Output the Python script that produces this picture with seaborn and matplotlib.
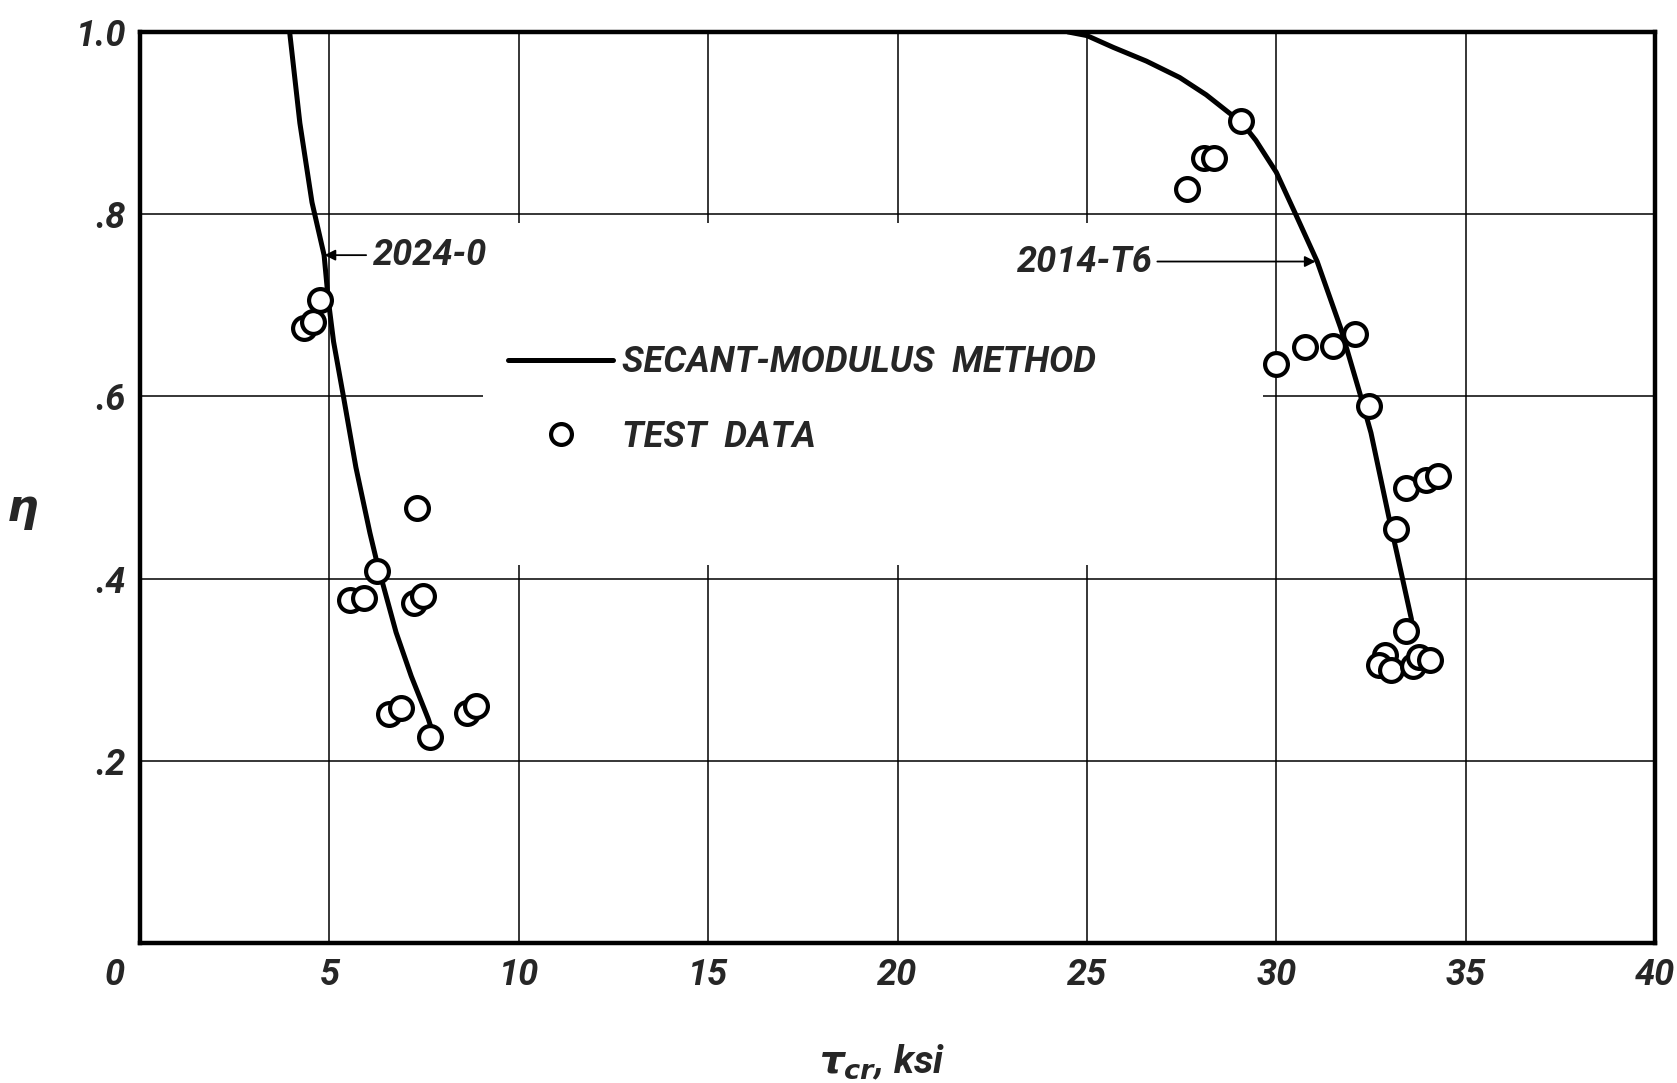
import matplotlib
matplotlib.use("Agg")
import matplotlib.pyplot as plt
from matplotlib.lines import Line2D
from matplotlib.transforms import ScaledTranslation
import pandas as pd
import seaborn as sns

# secant-modulus curves (tau_cr in ksi, eta)
curve_2024_tau = [3.95, 4.22, 4.54, 4.86, 4.97, 5.11, 5.37, 5.70, 6.07, 6.26, 6.76, 7.16, 7.61, 7.72]
curve_2024_eta = [1.00, 0.90, 0.813, 0.755, 0.706, 0.66, 0.60, 0.522, 0.45, 0.417, 0.341, 0.293, 0.246, 0.232]

curve_2014_tau = [24.5, 25.0, 25.7, 26.57, 27.45, 28.15, 28.76, 29.06, 29.46, 30.0, 30.51, 31.08,
                  31.70, 32.23, 32.5, 32.99, 33.2, 33.57]
curve_2014_eta = [1.0, 0.996, 0.983, 0.968, 0.950, 0.931, 0.911, 0.902, 0.881, 0.846, 0.80, 0.748,
                  0.675, 0.60, 0.56, 0.464, 0.425, 0.355]

# test data
test_2024_tau = [4.32, 4.56, 4.74, 7.31, 6.26, 5.55, 5.92, 7.24, 7.46, 6.58, 6.90, 7.66, 8.63, 8.88]
test_2024_eta = [0.675, 0.682, 0.706, 0.477, 0.408, 0.377, 0.379, 0.373, 0.381, 0.251, 0.258, 0.226,
                 0.252, 0.260]

test_2014_tau = [29.06, 28.10, 28.36, 27.64, 29.98, 30.76, 31.51, 32.08, 32.45, 33.43, 33.96, 34.27,
                 33.17, 33.42, 32.86, 32.70, 33.04, 33.62, 33.76, 34.07]
test_2014_eta = [0.902, 0.862, 0.862, 0.828, 0.636, 0.654, 0.655, 0.668, 0.589, 0.499, 0.508, 0.513,
                 0.454, 0.342, 0.316, 0.305, 0.300, 0.304, 0.314, 0.311]

x_ticks = [0, 5, 10, 15, 20, 25, 30, 35, 40]
x_labels = ["0", "5", "10", "15", "20", "25", "30", "35", "40"]
y_ticks = [0.2, 0.4, 0.6, 0.8, 1.0]
y_labels = [".2", ".4", ".6", ".8", "1.0"]

sns.set_style("white")
plt.rcParams["font.family"] = ["Roboto", "DejaVu Sans"]
plt.rcParams["font.weight"] = "bold"
plt.rcParams["font.style"] = "italic"
plt.rcParams["mathtext.fontset"] = "dejavusans"

fig = plt.figure(figsize=(16.77, 10.83), dpi=100)
ax = fig.add_axes([0.0835, 0.1293, 0.9034, 0.8412])

curves = pd.concat([
    pd.DataFrame({"tau": curve_2024_tau, "eta": curve_2024_eta, "alloy": "2024-0"}),
    pd.DataFrame({"tau": curve_2014_tau, "eta": curve_2014_eta, "alloy": "2014-T6"}),
])
tests = pd.concat([
    pd.DataFrame({"tau": test_2024_tau, "eta": test_2024_eta, "alloy": "2024-0"}),
    pd.DataFrame({"tau": test_2014_tau, "eta": test_2014_eta, "alloy": "2014-T6"}),
])

# grid, drawn by hand because the original leaves holes around the labels
gk = dict(color="black", lw=1.1, zorder=1)
for yv in [0.2, 0.4, 0.8]:
    ax.axhline(yv, **gk)
ax.hlines(0.6, 0, 9.06, **gk)
ax.hlines(0.6, 29.66, 40, **gk)
for xv in [5, 30, 35]:
    ax.axvline(xv, **gk)
for xv in [10, 15, 20, 25]:
    ax.vlines(xv, 0.79, 1.0, **gk)
    ax.vlines(xv, 0.0, 0.415, **gk)

sns.lineplot(data=curves, x="tau", y="eta", units="alloy", estimator=None, sort=False,
             color="black", lw=3.6, ax=ax, zorder=3, legend=False)
sns.scatterplot(data=tests, x="tau", y="eta", marker="o", s=270, facecolor="white",
                edgecolor="black", linewidth=3.0, ax=ax, zorder=4, legend=False)

# alloy call-outs
txt = dict(fontsize=26, fontweight="bold", fontstyle="italic", va="center")
arrow = dict(arrowstyle="-|>", color="black", lw=1.3, mutation_scale=16, shrinkA=0, shrinkB=0)
ax.annotate("", xy=(4.87, 0.755), xytext=(5.97, 0.755), arrowprops=arrow, zorder=5)
ax.text(6.15, 0.755, "2024-0", ha="left", **txt)
ax.annotate("", xy=(31.04, 0.748), xytext=(26.86, 0.748), arrowprops=arrow, zorder=5)
ax.text(26.75, 0.748, "2014-T6", ha="right", **txt)

handles = [
    Line2D([], [], color="black", lw=3.6),
    Line2D([], [], color="black", marker="o", markersize=15, markerfacecolor="white",
           markeredgewidth=3.0, linestyle="none"),
]
leg = ax.legend(handles, ["SECANT-MODULUS  METHOD", "TEST  DATA"], loc="upper left",
                bbox_to_anchor=(9.72, 0.657), bbox_transform=ax.transData, frameon=False,
                borderpad=0, borderaxespad=0, handlelength=2.9, handletextpad=0.25,
                labelspacing=1.07, prop=dict(size=26, weight="bold", style="italic"))

ax.set_xlim(0, 40)
ax.set_ylim(0, 1.0)
ax.set_xticks(x_ticks)
ax.set_xticklabels(x_labels)
ax.set_yticks(y_ticks)
ax.set_yticklabels(y_labels)
ax.tick_params(length=0, labelsize=26, pad=10)
for lab in ax.get_xticklabels() + ax.get_yticklabels():
    lab.set_fontweight("bold")
    lab.set_fontstyle("italic")
first = ax.get_xticklabels()[0]
first.set_transform(first.get_transform() + ScaledTranslation(-0.25, 0, fig.dpi_scale_trans))

for sp in ax.spines.values():
    sp.set_linewidth(3.2)
    sp.set_color("black")
    sp.set_zorder(6)

ax.set_xlabel(r"$\tau_{cr}$, ksi", fontsize=28, fontweight="bold", fontstyle="italic")
ax.xaxis.set_label_coords(0.49, -0.131)
ax.xaxis.label.set_va("center")
ax.set_ylabel(r"$\eta$", fontsize=32, rotation=0)
ax.yaxis.set_label_coords(-0.078, 0.474)
ax.yaxis.label.set_va("center")

fig.savefig("out.png", dpi=100)
